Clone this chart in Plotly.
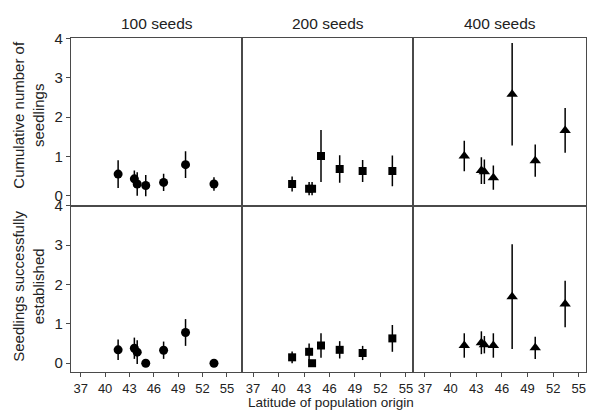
import plotly.graph_objects as go
from plotly.subplots import make_subplots

# ---- data ----
latitude = [41.6, 43.6, 43.95, 45.0, 47.2, 49.9, 53.4]
panel_titles = ["100 seeds", "200 seeds", "400 seeds"]
row_titles = ["Cumulative number of<br>seedlings", "Seedlings successfully<br>established"]

cum_100 = [0.55, 0.43, 0.30, 0.26, 0.34, 0.79, 0.30]
cum_100_err = [0.35, 0.21, 0.30, 0.27, 0.22, 0.34, 0.17]
cum_200 = [0.30, 0.18, 0.18, 1.01, 0.68, 0.63, 0.63]
cum_200_err = [0.19, 0.17, 0.17, 0.66, 0.35, 0.28, 0.39]
cum_400 = [1.01, 0.64, 0.61, 0.46, 2.58, 0.89, 1.66]
cum_400_err = [0.39, 0.34, 0.31, 0.31, 1.30, 0.41, 0.57]

est_100 = [0.34, 0.38, 0.28, 0.0, 0.33, 0.78, 0.0]
est_100_err = [0.26, 0.27, 0.30, 0.0, 0.22, 0.34, 0.0]
est_200 = [0.15, 0.29, 0.0, 0.45, 0.34, 0.26, 0.63]
est_200_err = [0.15, 0.21, 0.0, 0.31, 0.22, 0.18, 0.34]
est_400 = [0.45, 0.52, 0.47, 0.45, 1.69, 0.39, 1.50]
est_400_err = [0.31, 0.29, 0.22, 0.31, 1.33, 0.28, 0.59]

x_ticks = [37, 40, 43, 46, 49, 52, 55]
y_ticks = [0, 1, 2, 3, 4]

symbols = ["circle", "square", "triangle-up"]
sizes = [9, 8, 10]
rows_data = [
    [(cum_100, cum_100_err), (cum_200, cum_200_err), (cum_400, cum_400_err)],
    [(est_100, est_100_err), (est_200, est_200_err), (est_400, est_400_err)],
]

W, H = 589, 412
FONT = "Liberation Sans, Arial, Helvetica, sans-serif"
LINE = "#4a4a4a"

fig = make_subplots(rows=2, cols=3, horizontal_spacing=0, vertical_spacing=0)

for r in range(2):
    for c in range(3):
        vals, errs = rows_data[r][c]
        fig.add_trace(
            go.Scatter(
                x=latitude, y=vals, mode="markers",
                marker=dict(symbol=symbols[c], size=sizes[c], color="black"),
                error_y=dict(type="data", array=errs, visible=True,
                             color="black", thickness=1.5, width=0),
                showlegend=False,
            ),
            row=r + 1, col=c + 1,
        )

# panel geometry in pixels
x_px = [(71, 242), (242, 413), (413, 586)]
y_px = [(30, 201), (201, 371)]
x_ranges = [[35.8, 56.85], [35.7, 55.83], [35.6, 55.84]]
y_ranges = [[-0.25, 4], [-0.22, 4]]

for r in range(2):
    for c in range(3):
        idx = r * 3 + c + 1
        xa = "xaxis" if idx == 1 else f"xaxis{idx}"
        ya = "yaxis" if idx == 1 else f"yaxis{idx}"
        x0, x1 = x_px[c]
        y0, y1 = y_px[r]
        fig.layout[xa].update(
            domain=[x0 / W, x1 / W], range=x_ranges[c],
            showline=True, linecolor=LINE, linewidth=1.3, mirror=True,
            showgrid=False, zeroline=False,
            tickvals=x_ticks,
            showticklabels=(r == 1),
            ticks="outside" if r == 1 else "",
            ticklen=4, tickcolor=LINE, tickwidth=1,
            tickfont=dict(family=FONT, size=13, color="#222"),
        )
        fig.layout[ya].update(
            domain=[(H - y1) / H, (H - y0) / H], range=y_ranges[r],
            showline=True, linecolor=LINE, linewidth=1.3, mirror=True,
            showgrid=False, zeroline=False,
            tickvals=y_ticks,
            showticklabels=(c == 0),
            ticks="outside" if c == 0 else "",
            ticklen=4, tickcolor=LINE, tickwidth=1,
            tickfont=dict(family=FONT, size=15, color="#222"),
        )

annotations = []
for c in range(3):
    x0, x1 = x_px[c]
    annotations.append(dict(
        text=panel_titles[c], x=(x0 + x1) / 2 / W, y=(H - 15) / H,
        xref="paper", yref="paper", showarrow=False,
        xanchor="center", yanchor="middle",
        font=dict(family=FONT, size=15.5, color="#222"),
    ))
row_title_y = [108, 284]
for r in range(2):
    annotations.append(dict(
        text=row_titles[r], x=29 / W, y=(H - row_title_y[r]) / H,
        xref="paper", yref="paper", showarrow=False, textangle=-90,
        xanchor="center", yanchor="middle",
        font=dict(family=FONT, size=15, color="#222"),
    ))
annotations.append(dict(
    text="Latitude of population origin", x=331 / W, y=(H - 402) / H,
    xref="paper", yref="paper", showarrow=False,
    xanchor="center", yanchor="middle",
    font=dict(family=FONT, size=13.5, color="#222"),
))

fig.update_layout(
    width=W, height=H,
    margin=dict(l=0, r=0, t=0, b=0),
    paper_bgcolor="white", plot_bgcolor="white",
    annotations=annotations,
)

fig.write_html(
    "out.html",
    config={"displayModeBar": False},
    post_script="document.body.style.margin='0';document.body.style.overflow='hidden';",
)
